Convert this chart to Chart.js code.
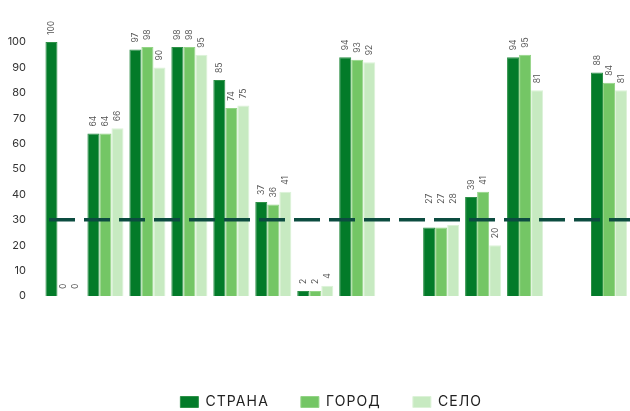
<!DOCTYPE html>
<html lang="ru">
<head>
<meta charset="UTF-8">
<title>Страна, город, село</title>
<script src="https://cdn.jsdelivr.net/npm/chart.js@4.4.1/dist/chart.umd.min.js"></script>
<style>
  html, body { margin: 0; padding: 0; background: #fff; }
</style>
</head>
<body>
<canvas id="chart" width="630" height="411"></canvas>
<script>
// 14 groups, two of them left empty as separators
const categories = ['1', '2', '3', '4', '5', '6', '7', '8', '9', '10', '11', '12', '13', '14'];
const country = [100, 64, 97, 98, 85, 37, 2, 94, null, 27, 39, 94, null, 88];
const city    = [0,   64, 98, 98, 74, 36, 2, 93, null, 27, 41, 95, null, 84];
const village = [0,   66, 90, 95, 75, 41, 4, 92, null, 28, 20, 81, null, 81];
const seriesNames = ['СТРАНА', 'ГОРОД', 'СЕЛО'];
const yTicks = [0, 10, 20, 30, 40, 50, 60, 70, 80, 90, 100];
const threshold = 30;

const colors = ['#037b29', '#74c665', '#c7eac1'];
const edges = ['#2f9148', '#93d486', '#dcf2d8'];

// dashed reference line across the plot
const thresholdLine = {
    id: 'thresholdLine',
    afterDatasetsDraw(chart) {
        const { ctx, chartArea, scales } = chart;
        const y = scales.y.getPixelForValue(threshold);
        ctx.save();
        ctx.strokeStyle = '#0c4c40';
        ctx.lineWidth = 3.5;
        ctx.setLineDash([26, 9]);
        ctx.beginPath();
        ctx.moveTo(chartArea.left + 6.5, y);
        ctx.lineTo(chartArea.right, y);
        ctx.stroke();
        ctx.restore();
    }
};

// rotated value above each bar, lifted over the dashed line when they would touch
const valueLabels = {
    id: 'valueLabels',
    afterDatasetsDraw(chart) {
        const { ctx, scales } = chart;
        const lineY = scales.y.getPixelForValue(threshold);
        ctx.save();
        ctx.font = '8.5px Inter, sans-serif';
        ctx.fillStyle = '#555';
        ctx.textAlign = 'left';
        ctx.textBaseline = 'middle';
        chart.data.datasets.forEach((ds, di) => {
            chart.getDatasetMeta(di).data.forEach((bar, i) => {
                const v = ds.data[i];
                if (v === null || v === undefined) return;
                const text = String(v);
                const w = ctx.measureText(text).width;
                let base = bar.y - 7;
                if (base > lineY - 3 && base - w < lineY + 3) base = lineY - 16;
                ctx.save();
                ctx.translate(bar.x, base);
                ctx.rotate(-Math.PI / 2);
                ctx.fillText(text, 0, 0);
                ctx.restore();
            });
        });
        ctx.restore();
    }
};

// wider tracking for the legend text, row nudged a little to the left
const legendTracking = {
    id: 'legendTracking',
    beforeLayout(chart) {
        const lg = chart.legend;
        if (!lg || lg._tracked) return;
        lg._tracked = true;
        ['fit', 'draw'].forEach(name => {
            const fn = lg[name];
            lg[name] = function (...args) {
                const c = this.ctx;
                c.save();
                c.letterSpacing = '1.1px';
                if (name === 'draw') c.translate(-5, 0);
                const res = fn.apply(this, args);
                c.restore();
                return res;
            };
        });
    }
};

const ctx = document.getElementById('chart').getContext('2d');
new Chart(ctx, {
    type: 'bar',
    data: {
        labels: categories,
        datasets: [country, city, village].map((values, k) => ({
            label: seriesNames[k],
            data: values,
            backgroundColor: colors[k],
            borderColor: edges[k],
            borderWidth: 1,
            barPercentage: 1,
            categoryPercentage: 0.86
        }))
    },
    options: {
        responsive: false,
        animation: false,
        layout: { padding: { top: 42, left: 8, right: 0, bottom: -8 } },
        plugins: {
            tooltip: { enabled: false },
            legend: {
                position: 'bottom',
                fullSize: false,
                labels: {
                    boxWidth: 18,
                    boxHeight: 11,
                    padding: 32,
                    color: '#222',
                    font: { family: 'Inter, sans-serif', size: 14 }
                }
            }
        },
        scales: {
            x: {
                grid: { display: false, drawTicks: false },
                border: { display: false },
                ticks: { display: false },
                afterFit(scale) { scale.height = 67; }
            },
            y: {
                min: 0,
                max: 100,
                afterBuildTicks(scale) { scale.ticks = yTicks.map(v => ({ value: v })); },
                afterFit(scale) { scale.width = 34.5; },
                grid: { display: false, drawTicks: false },
                border: { display: false },
                ticks: {
                    padding: 16.5,
                    color: '#333',
                    font: { family: 'Inter, sans-serif', size: 11 }
                }
            }
        }
    },
    plugins: [thresholdLine, valueLabels, legendTracking]
});
</script>
</body>
</html>
